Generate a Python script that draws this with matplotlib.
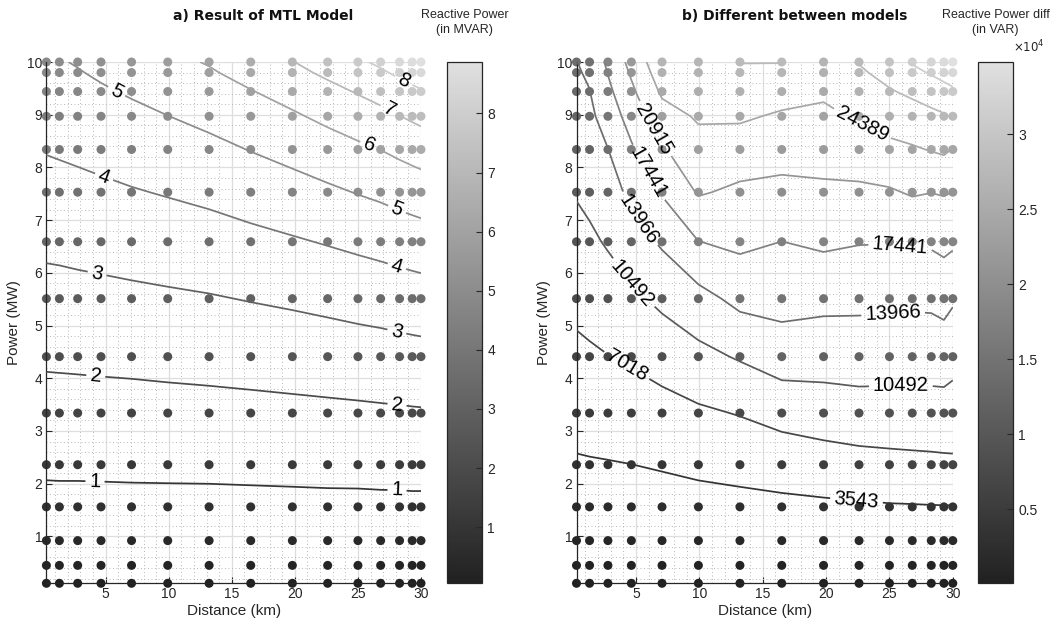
import numpy as np
import matplotlib
matplotlib.use("Agg")
import matplotlib.pyplot as plt
from matplotlib.colors import LinearSegmentedColormap, Normalize
from matplotlib.ticker import MultipleLocator, FixedLocator, FuncFormatter
from matplotlib.cm import ScalarMappable

plt.rcParams['font.family'] = ['Liberation Sans', 'DejaVu Sans']

# ---------------- data ----------------
distance_km = [0.3, 1.33, 2.78, 4.63, 7.05, 9.92, 13.2, 16.5, 19.8, 22.6, 25.0, 26.8, 28.3, 29.3, 30.0]
power_mw = [0.11, 0.45, 0.92, 1.56, 2.36, 3.34, 4.41, 5.51, 6.59, 7.53, 8.34, 8.97, 9.44, 9.8, 10.0]

# Reactive power, MTL model (MVAR); rows = power, columns = distance
q_mtl_mvar = [
    [0.05, 0.05, 0.05, 0.05, 0.05, 0.05, 0.05, 0.05, 0.05, 0.05, 0.05, 0.05, 0.05, 0.05, 0.05],
    [0.22, 0.22, 0.22, 0.22, 0.22, 0.22, 0.22, 0.22, 0.22, 0.22, 0.22, 0.22, 0.22, 0.22, 0.22],
    [0.45, 0.45, 0.45, 0.45, 0.45, 0.45, 0.45, 0.46, 0.46, 0.46, 0.46, 0.46, 0.47, 0.47, 0.47],
    [0.76, 0.76, 0.76, 0.76, 0.77, 0.77, 0.77, 0.78, 0.79, 0.80, 0.80, 0.81, 0.81, 0.82, 0.82],
    [1.14, 1.15, 1.15, 1.16, 1.17, 1.18, 1.19, 1.21, 1.23, 1.25, 1.26, 1.28, 1.29, 1.30, 1.30],
    [1.62, 1.63, 1.63, 1.65, 1.66, 1.69, 1.71, 1.74, 1.78, 1.81, 1.84, 1.87, 1.89, 1.91, 1.92],
    [2.14, 2.15, 2.17, 2.19, 2.22, 2.26, 2.31, 2.37, 2.43, 2.50, 2.56, 2.60, 2.65, 2.68, 2.70],
    [2.67, 2.69, 2.72, 2.76, 2.81, 2.87, 2.94, 3.04, 3.14, 3.24, 3.34, 3.41, 3.48, 3.53, 3.56],
    [3.20, 3.22, 3.27, 3.32, 3.40, 3.49, 3.60, 3.75, 3.91, 4.06, 4.20, 4.31, 4.42, 4.49, 4.54],
    [3.66, 3.69, 3.75, 3.83, 3.94, 4.06, 4.21, 4.42, 4.63, 4.84, 5.04, 5.18, 5.34, 5.44, 5.51],
    [4.05, 4.10, 4.17, 4.27, 4.41, 4.57, 4.77, 5.03, 5.30, 5.58, 5.82, 6.01, 6.21, 6.34, 6.43],
    [4.36, 4.41, 4.50, 4.63, 4.79, 4.99, 5.23, 5.55, 5.88, 6.21, 6.51, 6.74, 6.98, 7.14, 7.25],
    [4.59, 4.65, 4.75, 4.90, 5.09, 5.32, 5.59, 5.96, 6.34, 6.72, 7.07, 7.34, 7.61, 7.79, 7.92],
    [4.76, 4.84, 4.95, 5.12, 5.33, 5.59, 5.90, 6.32, 6.75, 7.18, 7.57, 7.87, 8.18, 8.38, 8.53],
    [4.86, 4.94, 5.06, 5.24, 5.47, 5.75, 6.07, 6.52, 6.97, 7.43, 7.85, 8.17, 8.50, 8.72, 8.87],
]

# Difference between models (VAR); rows = power, columns = distance
q_diff_var = [
    [69, 71, 73, 76, 82, 89, 96, 103, 109, 115, 120, 122, 124, 125, 125],
    [405, 416, 426, 444, 477, 519, 556, 597, 635, 668, 698, 709, 720, 726, 726],
    [991, 1015, 1042, 1086, 1165, 1270, 1359, 1460, 1553, 1633, 1707, 1733, 1761, 1774, 1774],
    [1917, 1965, 2015, 2100, 2254, 2458, 2630, 2824, 3004, 3159, 3304, 3354, 3406, 3433, 3433],
    [3216, 3297, 3381, 3524, 3794, 4186, 4551, 4998, 5444, 5825, 6061, 6186, 6287, 6383, 6477],
    [4711, 4870, 5089, 5375, 5845, 6518, 7185, 8176, 8773, 9115, 9126, 9171, 9186, 9182, 9003],
    [6293, 6560, 6949, 7444, 8330, 9571, 10801, 12158, 11941, 12049, 11954, 11905, 11910, 12030, 11568],
    [7883, 8263, 8897, 9788, 11238, 12818, 14893, 15186, 14850, 14756, 14661, 14574, 14649, 15094, 14375],
    [9414, 9923, 10811, 12353, 14422, 17391, 18150, 17420, 18008, 17612, 17568, 17774, 17896, 18338, 17994],
    [10724, 11272, 12477, 14766, 17719, 21217, 20298, 20005, 20324, 20289, 20564, 21228, 20960, 21150, 20884],
    [11766, 12380, 13912, 17000, 20533, 23256, 22754, 22238, 22227, 22795, 23558, 24042, 24547, 24891, 24264],
    [12577, 13242, 15477, 18849, 23066, 24749, 24842, 23975, 23676, 24796, 25889, 26458, 27035, 27529, 28088],
    [13181, 13885, 16660, 20256, 24914, 25689, 26260, 25684, 24925, 26268, 27608, 28480, 29449, 30200, 30722],
    [13645, 14416, 17571, 21335, 26174, 26409, 27347, 27141, 26130, 27395, 28925, 30497, 31638, 32443, 33268],
    [13903, 14716, 18091, 21935, 26874, 26809, 27950, 27950, 26800, 28021, 29656, 31618, 32838, 33743, 34812],
]

levels_mtl = [1, 2, 3, 4, 5, 6, 7, 8]
levels_diff = [3543, 7018, 10492, 13966, 17441, 20915, 24389, 27864, 31338]
cbar_ticks_mtl = [1, 2, 3, 4, 5, 6, 7, 8]
cbar_ticks_diff = [5000, 10000, 15000, 20000, 25000, 30000]

# label placements (layout)
label_pos_mtl = [(4.15, 2.01), (28.1, 1.86), (4.2, 4.0), (28.1, 3.5), (4.3, 5.96), (28.1, 4.9),
                 (4.8, 7.77), (28.0, 6.05), (5.9, 9.46), (28.0, 7.15), (25.8, 8.36),
                 (27.4, 9.06), (28.6, 9.63)]
label_pos_diff = [(22.4, 1.69), (4.26, 4.24), (4.78, 5.81), (25.9, 3.81), (5.18, 7.01),
                  (25.3, 5.16), (5.97, 7.9), (25.8, 6.44), (6.28, 8.7), (22.8, 8.8)]

# ---------------- styling ----------------
W, H = 1054, 625
fig = plt.figure(figsize=(W / 100, H / 100), dpi=100)
cmap = LinearSegmentedColormap.from_list('grayish', ['#212121', '#e0e0e0'])
axcol = '#262626'

X, Y = np.meshgrid(distance_km, power_mw)


def fx(px):
    return px / W


def fy(py):
    return 1 - py / H


def make_panel(ax_rect, cax_rect, Z, levels, label_pos, fmt, cticks, cfmt):
    Z = np.asarray(Z, dtype=float)
    norm = Normalize(vmin=Z.min(), vmax=Z.max())
    ax = fig.add_axes(ax_rect)
    ax.set_xlim(distance_km[0], distance_km[-1])
    ax.set_ylim(power_mw[0], power_mw[-1])
    ax.xaxis.set_major_locator(FixedLocator([5, 10, 15, 20, 25, 30]))
    ax.yaxis.set_major_locator(FixedLocator([1, 2, 3, 4, 5, 6, 7, 8, 9, 10]))
    ax.xaxis.set_minor_locator(MultipleLocator(1))
    ax.yaxis.set_minor_locator(MultipleLocator(0.2))
    ax.set_axisbelow(True)
    ax.grid(which='major', color='#dedede', lw=0.9)
    ax.grid(which='minor', color='#b8b8b8', ls=(0, (1, 2.6)), lw=0.7)
    for s in ['top', 'right']:
        ax.spines[s].set_visible(False)
    for s in ['left', 'bottom']:
        ax.spines[s].set_color(axcol)
        ax.spines[s].set_linewidth(0.9)
    ax.tick_params(which='major', direction='in', length=4, color=axcol,
                   labelcolor=axcol, labelsize=10, pad=3)
    ax.tick_params(which='minor', length=0)
    ax.scatter(X.ravel(), Y.ravel(), c=Z.ravel(), cmap=cmap, norm=norm, s=42,
               edgecolors='none', clip_on=False, zorder=2)
    cs = ax.contour(X, Y, Z, levels=levels, cmap=cmap, norm=norm, linewidths=1.25, zorder=3)
    ax.clabel(cs, levels, manual=label_pos, inline=True, inline_spacing=4,
              fontsize=14.5, fmt=fmt, colors='k')
    ax.set_xlabel('Distance (km)', fontsize=11, color=axcol, labelpad=2)
    ax.set_ylabel('Power (MW)', fontsize=11, color=axcol, labelpad=4)

    cax = fig.add_axes(cax_rect)
    cb = fig.colorbar(ScalarMappable(norm=norm, cmap=cmap), cax=cax)
    cb.set_ticks(cticks)
    cb.ax.yaxis.set_major_formatter(FuncFormatter(cfmt))
    cb.ax.tick_params(direction='in', length=4, color=axcol, labelcolor=axcol,
                      labelsize=10, pad=4)
    cb.outline.set_edgecolor(axcol)
    cb.outline.set_linewidth(0.9)
    return ax, cb


ax_top, ax_bot = 62, 583.3
ah = (ax_bot - ax_top) / H

ax1, cb1 = make_panel([fx(46.4), fy(ax_bot), fx(421 - 46.4), ah],
                      [fx(447.3), fy(ax_bot), fx(34.4), ah],
                      q_mtl_mvar, levels_mtl, label_pos_mtl, '%d', cbar_ticks_mtl,
                      lambda v, p: f'{v:g}')
ax2, cb2 = make_panel([fx(576.5), fy(ax_bot), fx(952.8 - 576.5), ah],
                      [fx(978.3), fy(ax_bot), fx(34.4), ah],
                      q_diff_var, levels_diff, label_pos_diff, '%d', cbar_ticks_diff,
                      lambda v, p: f'{v / 1e4:g}')

# titles
fig.text(fx(263), fy(16), 'a) Result of MTL Model', ha='center', va='center',
         fontsize=10, fontweight='bold', family='DejaVu Sans', color='#111111')
fig.text(fx(795), fy(16), 'b) Different between models', ha='center', va='center',
         fontsize=10, fontweight='bold', family='DejaVu Sans', color='#111111')

# colorbar titles
fig.text(fx(464.5), fy(9), 'Reactive Power\n(in MVAR)', ha='center', va='top',
         fontsize=9, color=axcol, linespacing=1.35)
fig.text(fx(995.5), fy(9), 'Reactive Power diff\n(in VAR)', ha='center', va='top',
         fontsize=9, color=axcol, linespacing=1.35)
fig.text(fx(1013), fy(47), r'$\times10^{4}$', ha='left', va='center',
         fontsize=8.5, color=axcol)

fig.savefig('out.png', dpi=100)
